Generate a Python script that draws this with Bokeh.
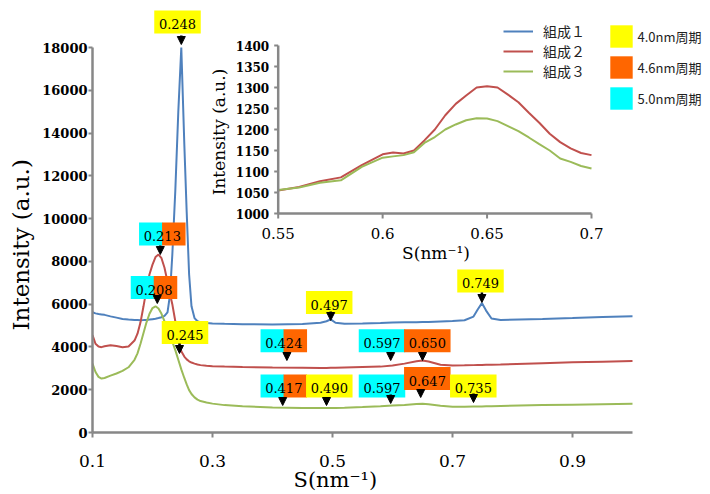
import math
from bokeh.plotting import figure
from bokeh.models import (Range1d, FixedTicker, Label, Legend, LegendItem, Title,
                          Arrow, NormalHead, ColumnDataSource)
from bokeh.embed import file_html
from bokeh.resources import INLINE
from bokeh.core.properties import value

# ---------------- data ----------------
s = [0.100, 0.105, 0.110, 0.115, 0.120, 0.130, 0.140, 0.150, 0.160, 0.170,
     0.175, 0.180, 0.185, 0.190, 0.195, 0.200, 0.205, 0.210, 0.215, 0.220,
     0.225, 0.229, 0.233, 0.238, 0.243, 0.248, 0.253, 0.257, 0.261, 0.265,
     0.270, 0.275, 0.280, 0.290, 0.300, 0.320, 0.350, 0.400, 0.450, 0.480,
     0.490, 0.497, 0.505, 0.520, 0.550, 0.580, 0.600, 0.620, 0.640, 0.650,
     0.660, 0.680, 0.700, 0.720, 0.735, 0.742, 0.749, 0.756, 0.765, 0.780,
     0.850, 0.900, 0.950, 1.000]
comp1 = [5620, 5570, 5540, 5520, 5500, 5430, 5370, 5310, 5280, 5260,
         5255, 5250, 5255, 5265, 5280, 5300, 5320, 5350, 5390, 5450,
         5620, 6400, 8300, 11300, 15000, 18000, 13500, 10300, 7400, 5900,
         5350, 5200, 5150, 5120, 5100, 5080, 5060, 5050, 5070, 5130,
         5200, 5290, 5130, 5090, 5100, 5120, 5140, 5150, 5160, 5170,
         5170, 5190, 5210, 5250, 5420, 5750, 6050, 5700, 5330, 5260,
         5310, 5350, 5400, 5440]
comp2 = [4560, 4150, 4020, 3990, 4030, 4080, 4040, 3990, 4020, 4300,
         4620, 5150, 5900, 6700, 7400, 7850, 8200, 8320, 8150, 7700,
         7050, 6500, 6000, 5200, 4350, 3800, 3550, 3420, 3330, 3270,
         3220, 3180, 3150, 3120, 3100, 3080, 3060, 3040, 3030, 3020,
         3020, 3030, 3030, 3040, 3060, 3080, 3130, 3220, 3330, 3370,
         3320, 3170, 3130, 3140, 3150, 3155, 3160, 3165, 3170, 3180,
         3240, 3280, 3310, 3340]
comp3 = [3220, 2830, 2600, 2520, 2550, 2660, 2760, 2880, 3050, 3400,
         3700, 4150, 4650, 5150, 5550, 5820, 5900, 5800, 5550, 5200,
         4850, 4550, 4250, 3850, 3400, 2950, 2550, 2250, 1980, 1800,
         1640, 1540, 1470, 1400, 1350, 1280, 1230, 1170, 1150, 1140,
         1140, 1145, 1150, 1160, 1190, 1230, 1260, 1290, 1330, 1340,
         1320, 1250, 1200, 1200, 1210, 1215, 1220, 1225, 1230, 1240,
         1280, 1300, 1320, 1340]

inset_s = [0.550, 0.560, 0.570, 0.580, 0.590, 0.600, 0.605, 0.610, 0.615,
           0.620, 0.625, 0.630, 0.635, 0.640, 0.645, 0.650, 0.655, 0.660,
           0.665, 0.670, 0.675, 0.680, 0.685, 0.690, 0.695, 0.700]
inset_comp2 = [1055, 1063, 1077, 1086, 1115, 1141, 1145, 1143, 1150,
               1174, 1200, 1234, 1261, 1281, 1300, 1303, 1300, 1283,
               1265, 1240, 1216, 1190, 1170, 1155, 1144, 1139]
inset_comp3 = [1056, 1062, 1073, 1079, 1111, 1133, 1136, 1139, 1146,
               1168, 1182, 1200, 1212, 1222, 1227, 1226, 1220, 1208,
               1196, 1181, 1165, 1150, 1131, 1123, 1113, 1107]

series_names = ["組成１", "組成２", "組成３"]
period_names = ["4.0nm周期", "4.6nm周期", "5.0nm周期"]

x_ticks = [0.1, 0.3, 0.5, 0.7, 0.9]
y_ticks = [0, 2000, 4000, 6000, 8000, 10000, 12000, 14000, 16000, 18000]
inset_x_ticks = [0.55, 0.6, 0.65, 0.7]
inset_x_labels = ["0.55", "0.6", "0.65", "0.7"]
inset_y_ticks = [1000, 1050, 1100, 1150, 1200, 1250, 1300, 1350, 1400]

# peak annotations: label text and which period colours the box carries
ann_labels = ["0.248", "0.213", "0.208", "0.245", "0.497", "0.749", "0.424",
              "0.597", "0.650", "0.417", "0.490", "0.597", "0.647", "0.735"]
ann_periods = [["4.0"], ["5.0", "4.6"], ["5.0", "4.6"], ["4.0"], ["4.0"], ["4.0"],
               ["5.0", "4.6"], ["5.0"], ["4.6"], ["5.0", "4.6"], ["4.0"], ["5.0"],
               ["4.6"], ["4.0"]]

# ---------------- styles / layout ----------------
COL = {"組成１": "#4F81BD", "組成２": "#C0504D", "組成３": "#9BBB59"}
PCOL = {"4.0": "#FFFF00", "4.6": "#FF6600", "5.0": "#00FFFF"}
AXIS = "#878787"
SERIF = "DejaVu Serif"
CJK = "Noto Sans CJK JP"

W, H = 710, 494
FL, FR, FT, FB = 92, 710, 0, 432          # frame edges, canvas px
PX_S = 600.0                              # px per unit S (main)
PX_I = 385.0 / 18000.0                    # px per unit intensity (main)


def sx(cx):
    return 0.1 + (cx - FL) / PX_S


def sy(cy):
    return (FB - cy) / PX_I


# inset geometry (canvas px)
IX_L, IX_R, IY_B, IY_T = 277.7, 591.0, 213.0, 45.0
IKX = (IX_R - IX_L) / 0.15
IKY = (IY_B - IY_T) / 400.0

# annotation layout: box centre (canvas px) and arrow start/tip y (canvas px)
ann_box = [(177, 21.5), (161.8, 233.5), (153.5, 287), (184.5, 332), (328.7, 302),
           (480, 280.5), (283.3, 340.3), (381.5, 340.3), (426.8, 340.3),
           (283.3, 385.5), (328.8, 385.5), (381.5, 385.5), (426.8, 378),
           (472.8, 385.5)]
ann_arrow = [(35, 44), (245, 254), (296, 303), (343, 353), (311, 320), (292, 302),
             (352, 360), (352, 360), (352, 360), (398, 405), (398, 405), (394, 403),
             (389, 397), (393, 402)]
BOX_W, BOX_H = 46, 23

p = figure(width=W, height=H, output_backend="svg", toolbar_location=None,
           x_range=Range1d(0.1, sx(FR)), y_range=Range1d(0, sy(FT)),
           min_border_left=FL, min_border_right=W - FR, min_border_top=FT,
           min_border_bottom=H - FB)
p.outline_line_color = None
p.xgrid.visible = False
p.ygrid.visible = False
p.background_fill_color = "white"

p.extra_x_ranges = {"ix": Range1d(0.55 - (IX_L - FL) / IKX, 0.55 + (FR - IX_L) / IKX)}
p.extra_y_ranges = {"iy": Range1d(1000 - (FB - IY_B) / IKY, 1000 + (IY_B - FT) / IKY)}

# axes
for ax in (p.xaxis[0], p.yaxis[0]):
    ax.axis_line_color = AXIS
    ax.axis_line_width = 2.5
    ax.major_tick_line_color = AXIS
    ax.major_tick_line_width = 2
    ax.minor_tick_line_color = None
    ax.major_tick_in = 0
    ax.major_label_text_color = "black"
    ax.major_label_text_font = SERIF
p.xaxis.ticker = FixedTicker(ticks=x_ticks)
p.xaxis.bounds = (0.1, 1.0)
p.xaxis.major_tick_out = 5
p.xaxis.major_label_standoff = 17
p.xaxis.major_label_text_font_size = "17px"
p.yaxis.ticker = FixedTicker(ticks=y_ticks)
p.yaxis.bounds = (0, 18000)
p.yaxis.major_tick_out = 4
p.yaxis.major_label_standoff = 1
p.yaxis.major_label_text_font_size = "13px"
p.yaxis.major_label_text_font_style = "bold"

# axis titles as side-panel titles (placed like the reference's)
xtitle = Title(text="S(nm⁻¹)", align="left", offset=201, standoff=0,
               vertical_align="middle", text_font=SERIF, text_font_size="21px",
               text_font_style="normal", text_color="black")
try:
    xtitle.standoff = -6
except Exception:
    p.xaxis.major_label_standoff = 12
p.add_layout(xtitle, "below")
p.add_layout(Title(text="Intensity (a.u.)", align="left", offset=FB - 330, standoff=10,
                   vertical_align="middle", text_font=SERIF, text_font_size="23px",
                   text_font_style="normal", text_color="black"), "left")

# main curves
rend = {}
for name, vals in zip(series_names, [comp1, comp2, comp3]):
    rend[name] = p.line(s, vals, line_color=COL[name], line_width=2)

# inset curves
p.line(inset_s, inset_comp2, line_color=COL["組成２"], line_width=2,
       x_range_name="ix", y_range_name="iy")
p.line(inset_s, inset_comp3, line_color=COL["組成３"], line_width=2,
       x_range_name="ix", y_range_name="iy")

# inset axes (drawn with the inset scales)
x0, x1 = inset_x_ticks[0], inset_x_ticks[-1]
y0, y1 = inset_y_ticks[0], inset_y_ticks[-1]
p.segment(x0=[x0, x0], y0=[y0, y0], x1=[x1, x0], y1=[y0, y1], line_color=AXIS,
          line_width=2.5, x_range_name="ix", y_range_name="iy")
p.segment(x0=[x0] * len(inset_y_ticks), y0=inset_y_ticks,
          x1=[x0 - 4 / IKX] * len(inset_y_ticks), y1=inset_y_ticks,
          line_color=AXIS, line_width=2, x_range_name="ix", y_range_name="iy")
p.segment(x0=inset_x_ticks, y0=[y0] * 4, x1=inset_x_ticks, y1=[y0 - 5 / IKY] * 4,
          line_color=AXIS, line_width=2, x_range_name="ix", y_range_name="iy")
p.text(x=[x0] * len(inset_y_ticks), y=inset_y_ticks, text=[str(v) for v in inset_y_ticks],
       x_offset=-9, text_align="right", text_baseline="middle",
       text_font=value(SERIF), text_font_size="12px", text_font_style="bold",
       text_color="black", x_range_name="ix", y_range_name="iy")
p.text(x=inset_x_ticks, y=[y0] * 4, text=inset_x_labels, y_offset=20,
       text_align="center", text_baseline="middle", text_font=value(SERIF),
       text_font_size="15px", text_color="black", x_range_name="ix", y_range_name="iy")

# inset titles
p.add_layout(Label(x=sx(218), y=sy(131.5), text="Intensity (a.u.)", angle=math.pi / 2,
                   text_align="center", text_baseline="middle", text_font=SERIF,
                   text_font_size="17px", text_color="black"))
p.add_layout(Label(x=sx(435.5), y=sy(252.5), text="S(nm⁻¹)", text_align="center",
                   text_baseline="middle", text_font=SERIF, text_font_size="17px",
                   text_color="black"))

# peak annotation boxes, labels and arrows
bx, by, bw, bc = [], [], [], []
for (cx, cy), periods in zip(ann_box, ann_periods):
    n = len(periods)
    seg = BOX_W / n
    for i, per in enumerate(periods):
        bx.append(sx(cx - BOX_W / 2 + seg * (i + 0.5)))
        by.append(sy(cy))
        bw.append(seg + 0.5)
        bc.append(PCOL[per])
p.rect(x="x", y="y", width="w", height=BOX_H, width_units="screen",
       height_units="screen", fill_color="c", line_color=None,
       source=ColumnDataSource(dict(x=bx, y=by, w=bw, c=bc)))
p.text(x=[sx(c[0]) for c in ann_box], y=[sy(c[1]) for c in ann_box], text=ann_labels,
       y_offset=2, text_align="center", text_baseline="middle",
       text_font=value(SERIF), text_font_size="13px", text_color="black")
arrow_src = ColumnDataSource(dict(
    x=[float(t) for t in ann_labels],
    ys=[sy(a[0]) for a in ann_arrow],
    ye=[sy(a[1]) for a in ann_arrow]))
p.add_layout(Arrow(end=NormalHead(size=8, fill_color="black", line_color="black"),
                   x_start="x", y_start="ys", x_end="x", y_end="ye",
                   line_color="black", line_width=2.5, source=arrow_src))

# legends
leg1 = Legend(items=[LegendItem(label=n, renderers=[rend[n]]) for n in series_names],
              location=(503 - FL, FB - 81), padding=0, margin=0, spacing=0,
              glyph_width=30, glyph_height=16, label_height=16, label_standoff=10,
              label_text_font=CJK, label_text_font_size="14px",
              label_text_color="#222222", border_line_color=None,
              background_fill_alpha=0)
p.add_layout(leg1)

per_rends = []
for per in ["4.0", "4.6", "5.0"]:
    per_rends.append(p.rect(x=[float("nan")], y=[float("nan")], width=1, height=1,
                            fill_color=PCOL[per], line_color=None))
leg2 = Legend(items=[LegendItem(label=n, renderers=[r]) for n, r in zip(period_names, per_rends)],
              location=(606.5 - FL, FB - 112), padding=0, margin=0, spacing=3,
              glyph_width=28, glyph_height=28, label_height=28, label_standoff=3,
              label_text_font=CJK, label_text_font_size="13px",
              label_text_color="#222222", border_line_color=None,
              background_fill_alpha=0)
p.add_layout(leg2)

open("out.html", "w").write(file_html(p, INLINE))
